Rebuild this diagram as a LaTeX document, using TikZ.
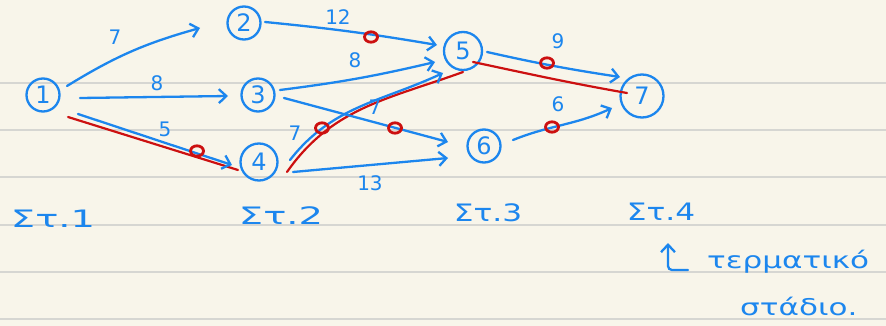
\documentclass[tikz,border=0pt]{standalone}
\usepackage{fontspec}
\usepackage{graphicx}
\setmainfont{DejaVu Sans}
\usetikzlibrary{arrows.meta}
\definecolor{paper}{HTML}{F8F5EA}
\definecolor{ruleline}{HTML}{D6D6D2}
\definecolor{pen}{HTML}{1C86EE}
\definecolor{redpen}{HTML}{CC1010}
\begin{document}
\begin{tikzpicture}[x=1pt,y=-1pt,
  st/.style={circle,draw=pen,line width=2.3pt,minimum size=33pt,inner sep=0pt,text=pen,font=\fontsize{24}{24}\selectfont},
  edge/.style={draw=pen,line width=2.3pt,line cap=round,-{Straight Barb[length=7.5pt,width=14pt,line width=2.3pt]}},
  crit/.style={draw=redpen,line width=2.2pt,line cap=round},
  redo/.style={circle,draw=redpen,line width=2.8pt,minimum size=13pt,inner sep=0pt,yscale=0.8},
  lbl/.style={text=pen,font=\fontsize{20}{20}\selectfont,inner sep=0pt},
  stage/.style={text=pen,font=\fontsize{24}{24}\selectfont,inner sep=0pt},
  note/.style={text=pen,font=\fontsize{23}{23}\selectfont,inner sep=0pt}]
\useasboundingbox (0,0) rectangle (886,326);
\fill[paper] (0,0) rectangle (886,326);
\foreach \yy in {83,130,177,225,272,319} \draw[ruleline,line width=1.4pt] (0,\yy) -- (886,\yy);

% nodes
\node[st] (n1) at (43,95) {1};
\node[st] (n2) at (244,23) {2};
\node[st] (n3) at (258,95) {3};
\node[st,minimum size=37pt] (n4) at (259,162) {4};
\node[st,minimum size=38pt] (n5) at (463,51) {5};
\node[st] (n6) at (484,146) {6};
\node[st,minimum size=43pt] (n7) at (642,96) {7};

% critical path (red)
\draw[crit] ([shift={(25,22)}]n1.center) -- ([shift={(-21,8)}]n4.center);
\draw[crit] ([shift={(28,10)}]n4.center) to[out=55,in=200] ([shift={(0,21)}]n5.center);
\draw[crit] ([shift={(10,11)}]n5.center) to[out=-12,in=170] ([shift={(-15,-3)}]n7.center);

% edges (blue)
\draw[edge] ([shift={(24,-9)}]n1.center) to[bend left=8] ([shift={(-44,5)}]n2.center);
\draw[edge] ([shift={(37,3)}]n1.center) -- ([shift={(-30,1)}]n3.center);
\draw[edge] ([shift={(35,19)}]n1.center) -- ([shift={(-27,3)}]n4.center);
\draw[edge] ([shift={(21,-1)}]n2.center) to[bend left=2] ([shift={(-26,-6)}]n5.center);
\draw[edge] ([shift={(22,-5)}]n3.center) to[bend right=3] ([shift={(-28,11)}]n5.center);
\draw[edge] ([shift={(26,3)}]n3.center) -- ([shift={(-36,-4)}]n6.center);
\draw[edge] ([shift={(31,-2)}]n4.center) to[out=52,in=205] ([shift={(-20,22)}]n5.center);
\draw[edge] ([shift={(34,10)}]n4.center) -- ([shift={(-36,12)}]n6.center);
\draw[edge] ([shift={(24,1)}]n5.center) to[bend right=2] ([shift={(-22,-19)}]n7.center);
\draw[edge] ([shift={(29,-6)}]n6.center) to[out=22,in=205] ([shift={(-30,12)}]n7.center);

% weights
\node[lbl] (w12) at (115,37) {7};
\node[lbl] (w13) at (157,83) {8};
\node[lbl] (w14) at (165,129) {5};
\node[lbl] (w25) at (338,17) {12};
\node[lbl] (w35) at (355,60) {8};
\node[lbl] (w36) at (375,107) {7};
\node[lbl] (w45) at (295,133) {7};
\node[lbl] (w46) at (370,183) {13};
\node[lbl] (w57) at (558,41) {9};
\node[lbl] (w67) at (558,104) {6};

% red marks
\node[redo] (m14) at (197,151) {};
\node[redo] (m25) at (371,37) {};
\node[redo] (m45) at (322,128) {};
\node[redo] (m36) at (395,128) {};
\node[redo] (m57) at (547,63) {};
\node[redo] (m67) at (552,127) {};

% stages
\node[stage] (s1) at (53,219) {\scalebox{1.6}[1]{Στ.1}};
\node[stage] (s2) at (281,216) {\scalebox{1.6}[1]{Στ.2}};
\node[stage] (s3) at (488,213) {\scalebox{1.3}[1]{Στ.3}};
\node[stage] (s4) at (661,212) {\scalebox{1.3}[1]{Στ.4}};

% note
\node[note,anchor=west] (t1) at (707,262) {\scalebox{1.35}[1]{τερματικό}};
\node[note,anchor=west] (t2) at (740,306) {\scalebox{1.35}[1]{στάδιο.}};
\coordinate (hk) at (688,270);
\draw[edge,rounded corners=4pt] (hk) -- (668,270) -- (668,243);
\end{tikzpicture}
\end{document}
